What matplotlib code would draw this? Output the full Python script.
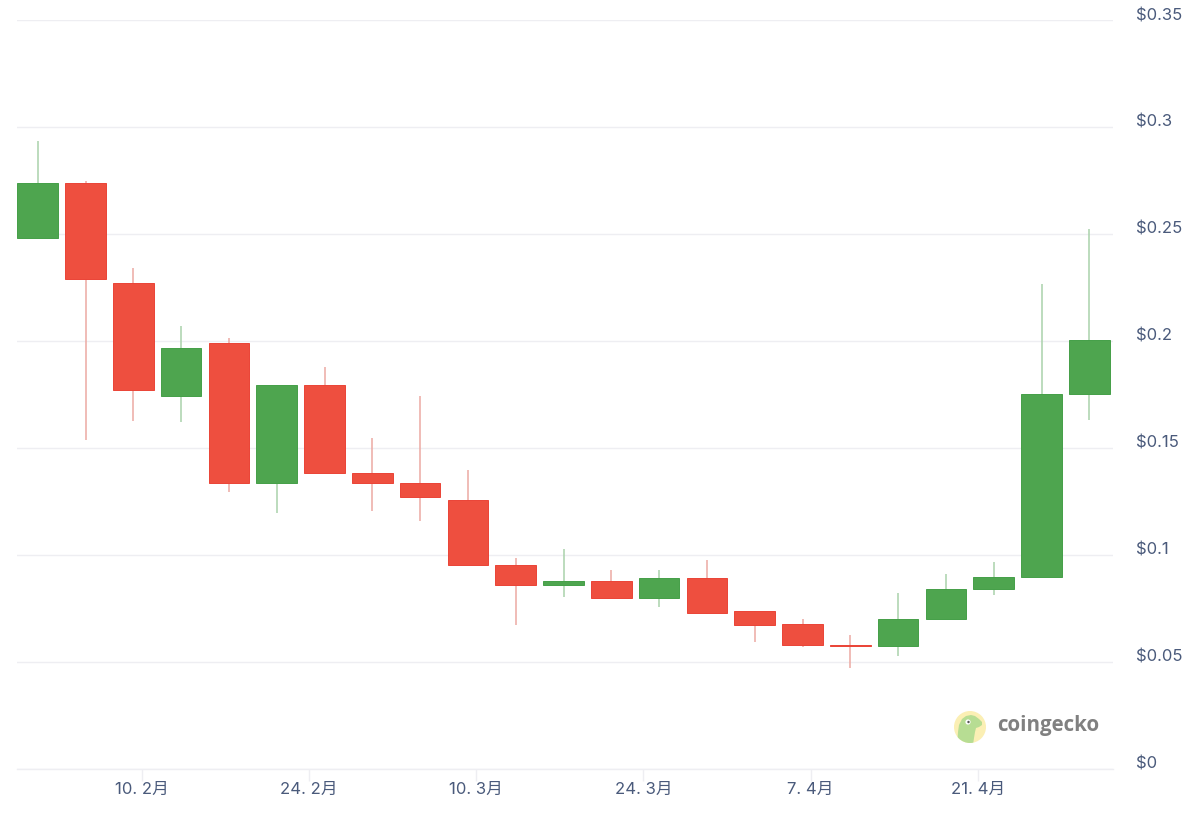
import numpy as np
import pandas as pd
import matplotlib
matplotlib.use("Agg")
import matplotlib.pyplot as plt
import matplotlib.dates as mdates
from matplotlib.patches import Circle, Polygon
from matplotlib.transforms import ScaledTranslation

# ==========================================
# DATA
# ==========================================
DATES = ["2023-02-01", "2023-02-05", "2023-02-09", "2023-02-13", "2023-02-17", "2023-02-21",
         "2023-02-25", "2023-03-01", "2023-03-05", "2023-03-09", "2023-03-13", "2023-03-17",
         "2023-03-21", "2023-03-25", "2023-03-29", "2023-04-02", "2023-04-06", "2023-04-10",
         "2023-04-14", "2023-04-18", "2023-04-22", "2023-04-26", "2023-04-30"]
OPENS = [0.2481, 0.2739, 0.2271, 0.1742, 0.1990, 0.1335, 0.1794, 0.1382, 0.1335, 0.1256, 0.0952, 0.0858,
         0.0877, 0.0797, 0.0891, 0.0737, 0.0676, 0.0578, 0.0573, 0.0699, 0.0840, 0.0896, 0.1752]
CLOSES = [0.2739, 0.2290, 0.1770, 0.1967, 0.1335, 0.1794, 0.1382, 0.1335, 0.1270, 0.0952, 0.0858, 0.0877,
          0.0797, 0.0891, 0.0727, 0.0671, 0.0578, 0.0571, 0.0699, 0.0840, 0.0896, 0.1752, 0.2004]
HIGHS = [0.2935, 0.2748, 0.2341, 0.2070, 0.2014, 0.1794, 0.1878, 0.1546, 0.1742, 0.1396, 0.0985, 0.1027,
         0.0928, 0.0928, 0.0975, 0.0737, 0.0699, 0.0624, 0.0821, 0.0910, 0.0966, 0.2266, 0.2523]
LOWS = [0.2481, 0.1536, 0.1625, 0.1621, 0.1293, 0.1195, 0.1382, 0.1204, 0.1158, 0.0952, 0.0671, 0.0802,
        0.0797, 0.0755, 0.0723, 0.0592, 0.0568, 0.0470, 0.0526, 0.0699, 0.0811, 0.0896, 0.1630]

Y_TICKS = [0, 0.05, 0.1, 0.15, 0.2, 0.25, 0.3, 0.35]
Y_LABELS = ["$0", "$0.05", "$0.1", "$0.15", "$0.2", "$0.25", "$0.3", "$0.35"]
X_TICK_DATES = ["2023-02-10", "2023-02-24", "2023-03-10", "2023-03-24", "2023-04-07", "2023-04-21"]
X_LABELS = ["10. 2月", "24. 2月", "10. 3月", "24. 3月", "7. 4月", "21. 4月"]

# ==========================================
# STYLE
# ==========================================
W, H = 1200, 818
GREEN, GREEN_EDGE, GREEN_WICK = "#4ea54f", "#449f48", "#a9d2ab"
RED, RED_EDGE, RED_WICK = "#ee4f3f", "#ea4336", "#ecaaa3"
GRID = "#eeeef2"
LABEL = "#4a5a7b"

plt.rcParams["font.family"] = ["Inter", "Noto Sans CJK JP", "DejaVu Sans"]

fig = plt.figure(figsize=(W / 100, H / 100), dpi=100)
ax = fig.add_axes([17 / W, 1 - 768.5 / H, (1113 - 17) / W, (768.5 - 20) / H])

# candle offset from midnight, the chart's points sit at about 08:00
x = mdates.date2num(pd.to_datetime(DATES)) + 0.32
opens, closes = np.array(OPENS), np.array(CLOSES)
up = closes >= opens

ax.vlines(x[up], np.array(LOWS)[up], np.array(HIGHS)[up], color=GREEN_WICK, lw=1.1, zorder=2)
ax.vlines(x[~up], np.array(LOWS)[~up], np.array(HIGHS)[~up], color=RED_WICK, lw=1.1, zorder=2)

bottoms = np.minimum(opens, closes)
heights = np.abs(closes - opens)
ax.bar(x[up], heights[up], 3.4, bottoms[up], color=GREEN, edgecolor=GREEN_EDGE, lw=0.7, zorder=3)
ax.bar(x[~up], heights[~up], 3.4, bottoms[~up], color=RED, edgecolor=RED_EDGE, lw=0.7, zorder=3)

# ==========================================
# AXES
# ==========================================
x0 = mdates.date2num(pd.Timestamp(DATES[0]))
ax.set_xlim(x0 - 1.42, x0 + 90.3)
ax.set_ylim(0, 0.35)

for s in ["top", "left", "right"]:
    ax.spines[s].set_visible(False)
ax.spines["bottom"].set_color(GRID)
ax.spines["bottom"].set_linewidth(1)

ax.yaxis.tick_right()
ax.set_yticks(Y_TICKS, Y_LABELS)
ax.tick_params(axis="y", length=0, pad=16.5, labelsize=12, labelcolor=LABEL)
ax.grid(axis="y", color=GRID, lw=1, zorder=0)
ax.set_axisbelow(True)

ax.set_xticks(mdates.date2num(pd.to_datetime(X_TICK_DATES)), X_LABELS)
ax.tick_params(axis="x", length=8.5, width=1, color=GRID, pad=1.5, labelsize=12, labelcolor=LABEL)

# y labels sit just above their grid lines
up_shift = ScaledTranslation(0, 6 / 100, fig.dpi_scale_trans)
for lab in ax.get_yticklabels():
    lab.set_transform(lab.get_transform() + up_shift)

# ==========================================
# COINGECKO MARK
# ==========================================
overlay = fig.add_axes([0, 0, 1, 1], facecolor="none")
overlay.set_xlim(0, W)
overlay.set_ylim(H, 0)
overlay.axis("off")
badge = Circle((970, 727), 16, color="#fbefb4", lw=0)
overlay.add_patch(badge)
gecko = Polygon([(957, 745), (958, 732), (959, 725), (962, 719), (966, 716), (971, 715), (975, 716),
                 (979, 719), (982, 722), (982, 725), (979, 727), (976, 728), (975, 732), (974, 738),
                 (973, 745)], closed=True, color="#b7dd93", lw=0)
overlay.add_patch(gecko)
gecko.set_clip_path(badge)
overlay.add_patch(Circle((968, 722), 2.6, color="#ffffff", lw=0))
overlay.add_patch(Circle((968.5, 722), 1.2, color="#555555", lw=0))
overlay.text(997, 726, "coingecko", fontsize=14.8, fontweight="bold", color="#808080",
             family=["Open Sans", "DejaVu Sans"], va="center", ha="left")

fig.savefig("out.png", dpi=100)
